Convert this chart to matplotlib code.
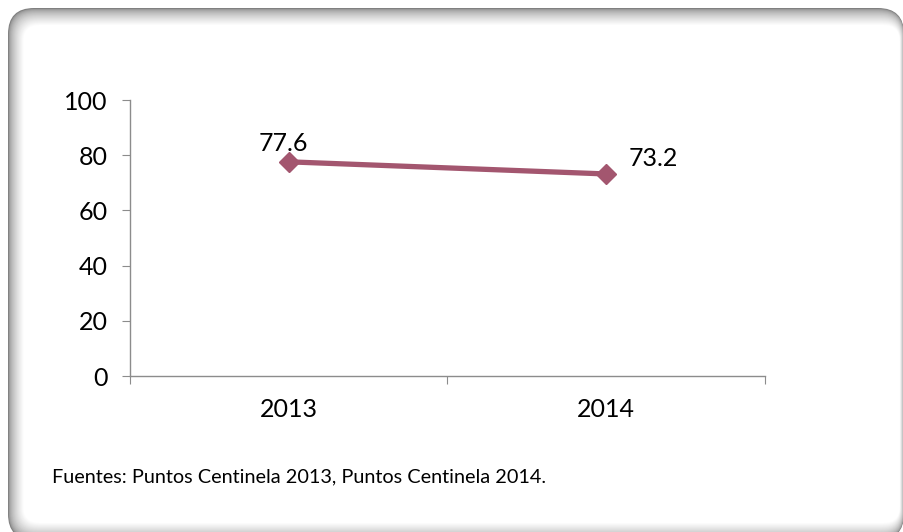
import matplotlib.pyplot as plt
from matplotlib.patches import FancyBboxPatch

# data
years = ["2013", "2014"]
values = [77.6, 73.2]
y_ticks = [0, 20, 40, 60, 80, 100]
source = "Fuentes: Puntos Centinela 2013, Puntos Centinela 2014."

line_color = "#A3566F"
axis_color = "#8C8C8C"
plt.rcParams["font.family"] = ["Lato", "DejaVu Sans"]

W, H = 904, 532
fig = plt.figure(figsize=(W / 100, H / 100), dpi=100)

# background layer in pixel coordinates for the rounded frame
bg = fig.add_axes([0, 0, 1, 1])
bg.set_xlim(0, W)
bg.set_ylim(H, 0)
bg.axis("off")

# frame: nested filled rounded boxes make a soft inner shadow
x0, y0, x1, y1 = 8, 8, 904, 540
n = 18
for i in range(n):
    t = i / (n - 1)
    shade = 0.50 + 0.50 * t ** 0.55
    left, top = x0 + i * 0.9, y0 + i * 1.0
    right, bottom = x1 - i * 0.25, y1 - i * 1.0
    bg.add_patch(FancyBboxPatch((left, top), right - left, bottom - top,
                                boxstyle="round,pad=0,rounding_size=%.1f" % (26 - i * 0.6),
                                facecolor=(shade, shade, shade), edgecolor="none"))

ax = fig.add_axes([130 / W, 1 - 376 / H, 635 / W, 276 / H])
ax.set_facecolor("none")

xs = [0.5, 1.5]
ax.plot(xs, values, color=line_color, linewidth=3.8, marker="D",
        markersize=10, solid_capstyle="butt")

ax.annotate(f"{values[0]}", (xs[0], values[0]), xytext=(-4, 5),
            textcoords="offset points", ha="center", va="bottom", fontsize=18)
ax.annotate(f"{values[1]}", (xs[1], values[1]), xytext=(16, 3),
            textcoords="offset points", ha="left", va="bottom", fontsize=18)

ax.set_xlim(0, 2)
ax.set_ylim(0, 100)
ax.set_yticks(y_ticks)
ax.set_yticklabels([str(t) for t in y_ticks], fontsize=18)
ax.set_xticks([0, 1, 2])
ax.set_xticklabels([])
ax.set_xticks(xs, minor=True)
ax.set_xticklabels(years, minor=True, fontsize=18)
ax.tick_params(axis="x", which="minor", length=0, pad=16)
ax.tick_params(axis="x", which="major", length=6, color=axis_color, direction="out")
ax.tick_params(axis="y", length=6, color=axis_color, direction="out", pad=10)

for s in ["top", "right"]:
    ax.spines[s].set_visible(False)
for s in ["left", "bottom"]:
    ax.spines[s].set_color(axis_color)
    ax.spines[s].set_linewidth(1)

fig.text(52 / W, 1 - 477 / H, source, fontsize=14.3, va="center", ha="left")

fig.savefig("out.png", dpi=100, facecolor="white")
